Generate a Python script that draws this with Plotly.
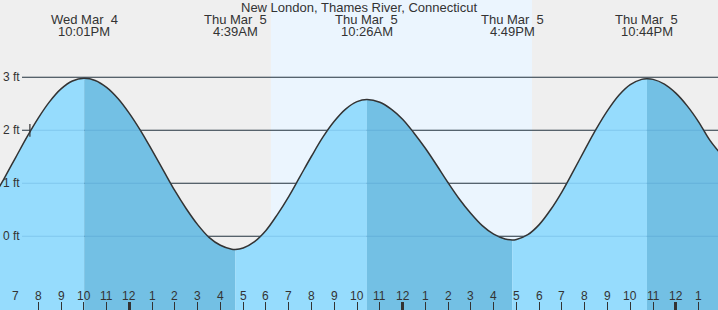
import plotly.graph_objects as go

# ---------------- data ----------------
title = "New London, Thames River, Connecticut"

# tide curve (time, feet) every half hour plus the tide events
curve_times = [
    "2026-03-04 18:00", "2026-03-04 18:30", "2026-03-04 19:00", "2026-03-04 19:30",
    "2026-03-04 20:00", "2026-03-04 20:30", "2026-03-04 21:00", "2026-03-04 21:30",
    "2026-03-04 22:01",
    "2026-03-04 22:30", "2026-03-04 23:00", "2026-03-04 23:30", "2026-03-05 00:00",
    "2026-03-05 00:30", "2026-03-05 01:00", "2026-03-05 01:30", "2026-03-05 02:00",
    "2026-03-05 02:30", "2026-03-05 03:00", "2026-03-05 03:30", "2026-03-05 04:00",
    "2026-03-05 04:30",
    "2026-03-05 04:39",
    "2026-03-05 05:00", "2026-03-05 05:30", "2026-03-05 06:00", "2026-03-05 06:30",
    "2026-03-05 07:00", "2026-03-05 07:30", "2026-03-05 08:00", "2026-03-05 08:30",
    "2026-03-05 09:00", "2026-03-05 09:30", "2026-03-05 10:00",
    "2026-03-05 10:26",
    "2026-03-05 11:00", "2026-03-05 11:30", "2026-03-05 12:00", "2026-03-05 12:30",
    "2026-03-05 13:00", "2026-03-05 13:30", "2026-03-05 14:00", "2026-03-05 14:30",
    "2026-03-05 15:00", "2026-03-05 15:30", "2026-03-05 16:00", "2026-03-05 16:30",
    "2026-03-05 16:49",
    "2026-03-05 17:00", "2026-03-05 17:30", "2026-03-05 18:00", "2026-03-05 18:30",
    "2026-03-05 19:00", "2026-03-05 19:30", "2026-03-05 20:00", "2026-03-05 20:30",
    "2026-03-05 21:00", "2026-03-05 21:30", "2026-03-05 22:00", "2026-03-05 22:30",
    "2026-03-05 22:44",
    "2026-03-05 23:00", "2026-03-05 23:30", "2026-03-06 00:00", "2026-03-06 00:30",
    "2026-03-06 01:00", "2026-03-06 01:30", "2026-03-06 02:00",
]
curve_feet = [
    0.71, 1.09, 1.48, 1.87, 2.23, 2.54, 2.78, 2.93,
    2.98,
    2.94, 2.81, 2.60, 2.32, 1.99, 1.62, 1.24, 0.86, 0.52, 0.22, -0.02, -0.17, -0.245,
    -0.25,
    -0.22, -0.10, 0.11, 0.41, 0.75, 1.13, 1.51, 1.87, 2.17, 2.40, 2.54,
    2.58,
    2.53, 2.40, 2.21, 1.95, 1.66, 1.34, 1.01, 0.70, 0.43, 0.20, 0.04, -0.05,
    -0.07,
    -0.06, 0.03, 0.22, 0.50, 0.84, 1.23, 1.63, 2.02, 2.37, 2.66, 2.86, 2.96,
    2.97,
    2.96, 2.87, 2.70, 2.46, 2.16, 1.81, 1.54,
]

# high / low tide events
ext_times = ["2026-03-04 22:01", "2026-03-05 04:39", "2026-03-05 10:26",
             "2026-03-05 16:49", "2026-03-05 22:44"]
ext_day = ["Wed Mar\u00a0 4", "Thu Mar\u00a0 5", "Thu Mar\u00a0 5", "Thu Mar\u00a0 5", "Thu Mar\u00a0 5"]
ext_clock = ["10:01PM", "4:39AM", "10:26AM", "4:49PM", "10:44PM"]

# daylight
sunrise = "2026-03-05 06:13"
sunset = "2026-03-05 17:41"

# hour ticks
hour_times = [
    "2026-03-04 19:00", "2026-03-04 20:00", "2026-03-04 21:00", "2026-03-04 22:00",
    "2026-03-04 23:00", "2026-03-05 00:00", "2026-03-05 01:00", "2026-03-05 02:00",
    "2026-03-05 03:00", "2026-03-05 04:00", "2026-03-05 05:00", "2026-03-05 06:00",
    "2026-03-05 07:00", "2026-03-05 08:00", "2026-03-05 09:00", "2026-03-05 10:00",
    "2026-03-05 11:00", "2026-03-05 12:00", "2026-03-05 13:00", "2026-03-05 14:00",
    "2026-03-05 15:00", "2026-03-05 16:00", "2026-03-05 17:00", "2026-03-05 18:00",
    "2026-03-05 19:00", "2026-03-05 20:00", "2026-03-05 21:00", "2026-03-05 22:00",
    "2026-03-05 23:00", "2026-03-06 00:00", "2026-03-06 01:00",
]
hour_labels = ["7", "8", "9", "10", "11", "12", "1", "2", "3", "4", "5", "6",
               "7", "8", "9", "10", "11", "12", "1", "2", "3", "4", "5", "6",
               "7", "8", "9", "10", "11", "12", "1"]
noon_midnight = ["2026-03-05 00:00", "2026-03-05 12:00", "2026-03-06 00:00"]

y_ticks = [0, 1, 2, 3]
y_labels = ["0 ft", "1 ft", "2 ft", "3 ft"]

now_time = "2026-03-04 19:38"
now_feet = 2.0

# ---------------- style ----------------
BG = "#efefef"
DAY = "#ebf5fe"
LIGHT = "#96dcfd"
DARK = "#73c0e4"
INK = "#333333"
FONT = "Liberation Sans, Arial, sans-serif"
X_RANGE = ["2026-03-04 18:19:12", "2026-03-06 01:51:11"]
Y_RANGE = [-1.391, 4.458]
YBOT = Y_RANGE[0]

fig = go.Figure()

# split curve into flood / ebb segments at the tide events
split_idx = [0] + [curve_times.index(t) for t in ext_times] + [len(curve_times) - 1]
for k in range(len(split_idx) - 1):
    a, b = split_idx[k], split_idx[k + 1]
    xs = curve_times[a:b + 1]
    ys = curve_feet[a:b + 1]
    color = LIGHT if k % 2 == 0 else DARK
    fig.add_trace(go.Scatter(x=xs, y=[YBOT] * len(xs), mode="lines",
                             line=dict(width=0, color=color), hoverinfo="skip",
                             showlegend=False))
    fig.add_trace(go.Scatter(x=xs, y=ys, mode="lines", fill="tonexty",
                             fillcolor=color, line=dict(width=0, color=color, shape="spline"),
                             hoverinfo="skip", showlegend=False))

# curve outline (on the overlay axis which carries the heavy noon/midnight ticks)
fig.add_trace(go.Scatter(x=curve_times, y=curve_feet, mode="lines", xaxis="x2",
                         line=dict(color=INK, width=1.5, shape="spline"),
                         hoverinfo="skip", showlegend=False))

shapes = [dict(type="rect", xref="x", yref="paper", x0=sunrise, x1=sunset, y0=0, y1=1,
               fillcolor=DAY, line=dict(width=0), layer="below")]
for v in y_ticks:
    shapes.append(dict(type="line", xref="paper", yref="y", x0=22 / 718, x1=1, y0=v, y1=v,
                       line=dict(color=INK, width=1), layer="below"))
for v in y_ticks:
    shapes.append(dict(type="line", xref="paper", yref="y", x0=22 / 718, x1=1, y0=v, y1=v,
                       line=dict(color="rgba(40,120,180,0.2)", width=1), layer="above"))
shapes.append(dict(type="line", xref="x", yref="y", x0=now_time, x1=now_time,
                   y0=now_feet - 0.12, y1=now_feet + 0.12,
                   line=dict(color=INK, width=1.2), layer="above"))

annotations = [dict(text=title, x=0.5, y=1 - 7.5 / 310, xref="paper", yref="paper",
                    showarrow=False, xanchor="center", yanchor="middle",
                    font=dict(size=13, color=INK, family=FONT))]
for t, d, c in zip(ext_times, ext_day, ext_clock):
    annotations.append(dict(text=d, x=t, y=1 - 19.5 / 310, xref="x", yref="paper",
                            showarrow=False, xanchor="center", yanchor="middle",
                            font=dict(size=13, color=INK, family=FONT)))
    annotations.append(dict(text=c, x=t, y=1 - 31.5 / 310, xref="x", yref="paper",
                            showarrow=False, xanchor="center", yanchor="middle",
                            font=dict(size=13, color=INK, family=FONT)))
for t, lab in zip(hour_times, hour_labels):
    annotations.append(dict(text=lab, x=t, y=(310 - 295.5) / 310, xref="x", yref="paper",
                            showarrow=False, xanchor="center", yanchor="middle",
                            font=dict(size=12, color=INK, family=FONT)))

fig.update_layout(
    width=718, height=310,
    margin=dict(l=0, r=0, t=0, b=0, pad=0),
    paper_bgcolor=BG, plot_bgcolor=BG,
    showlegend=False,
    xaxis=dict(type="date", range=X_RANGE, showgrid=False, zeroline=False,
               showline=False, showticklabels=False, tickvals=hour_times,
               ticks="inside", ticklen=8, tickwidth=1, tickcolor=INK, fixedrange=True),
    xaxis2=dict(type="date", matches="x", overlaying="x", anchor="y", side="bottom",
                showgrid=False, zeroline=False, showline=False, showticklabels=False,
                tickvals=noon_midnight, ticks="inside", ticklen=8, tickwidth=3,
                tickcolor=INK),
    yaxis=dict(range=Y_RANGE, showgrid=False, zeroline=False, showline=False,
               tickvals=y_ticks, ticktext=y_labels, ticks="",
               ticklabelposition="inside", tickfont=dict(size=12, color=INK, family=FONT),
               fixedrange=True),
    shapes=shapes,
    annotations=annotations,
)

fig.write_html("out.html")
